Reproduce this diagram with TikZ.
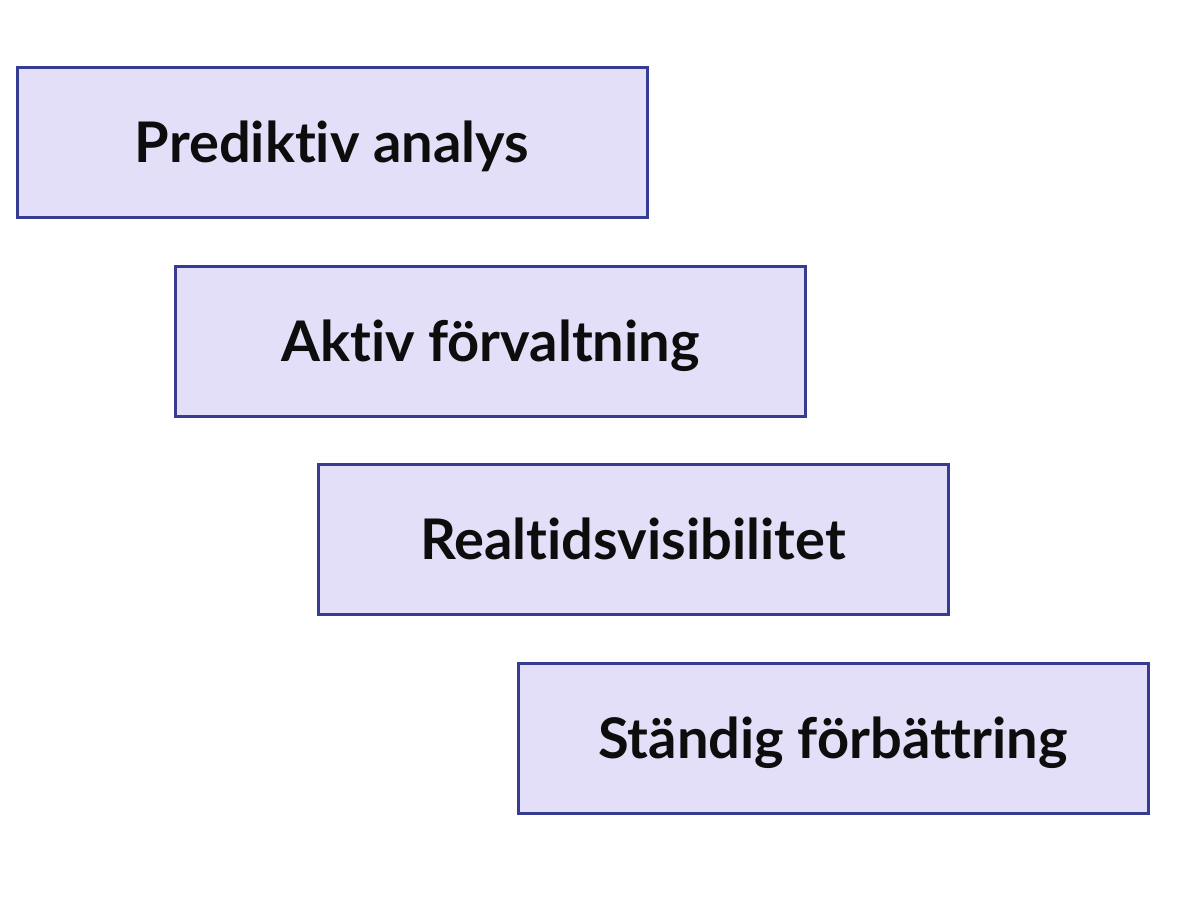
\documentclass[tikz,border=0pt]{standalone}
\usepackage{fontspec}
\setmainfont{Lato}[Ligatures=NoCommon]
\usepackage{tikz}
\usetikzlibrary{shadows}

\definecolor{boxfill}{HTML}{E3DFF8}
\definecolor{boxline}{HTML}{363C92}

\tikzset{stepbox/.style={draw=boxline, fill=boxfill, line width=1.5pt,
  minimum width=315pt, minimum height=75pt, inner sep=0pt,
  text height=20pt, text depth=0pt,
  font=\fontsize{28}{32}\selectfont\bfseries, text=black!95,
  drop shadow={shadow xshift=0.8pt, shadow yshift=-0.8pt, opacity=.3}}}

\begin{document}
\begin{tikzpicture}[x=0.5pt, y=-0.5pt]
\useasboundingbox[fill=white] (0,0) rectangle (1193,896);
\node[stepbox] (pred) at (332,142) {Prediktiv analys};
\node[stepbox] (aktiv) at (490.5,341) {Aktiv förvaltning};
\node[stepbox] (realtid) at (633,539) {Realtidsvisibilitet};
\node[stepbox] (stand) at (833,738) {Ständig förbättring};
\end{tikzpicture}
\end{document}
